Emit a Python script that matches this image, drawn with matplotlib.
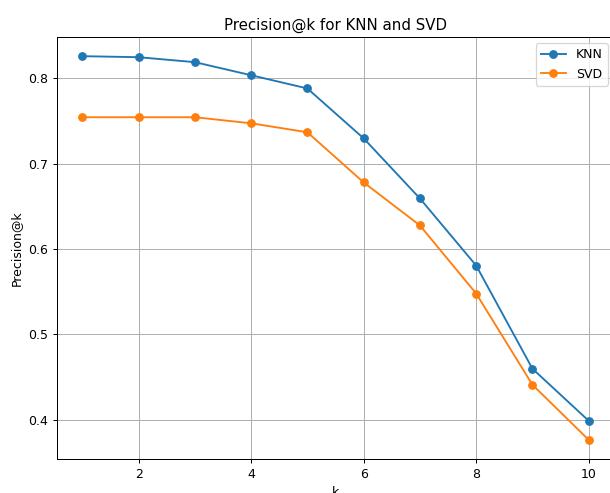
import matplotlib
matplotlib.use("Agg")
import matplotlib.pyplot as plt

k = [1, 2, 3, 4, 5, 6, 7, 8, 9, 10]
knn = [0.8258, 0.8246, 0.8188, 0.8035, 0.7880, 0.7296, 0.6592, 0.5806, 0.4598, 0.3988]
svd = [0.7543, 0.7543, 0.7543, 0.7472, 0.7367, 0.6780, 0.6276, 0.5478, 0.4410, 0.3765]

DPI = 90
fig = plt.figure(figsize=(610/DPI, 493/DPI), dpi=DPI)
ax = fig.add_axes([57/610, 34/493, (614-57)/610, (459-37)/493])
ax.plot(k, knn, marker='o', label='KNN')
ax.plot(k, svd, marker='o', label='SVD')
ax.set_title('Precision@k for KNN and SVD')
ax.set_xlabel('k')
ax.set_ylabel('Precision@k')
ax.grid(True)
ax.legend(loc='upper right')
fig.savefig('out.png', dpi=DPI)
